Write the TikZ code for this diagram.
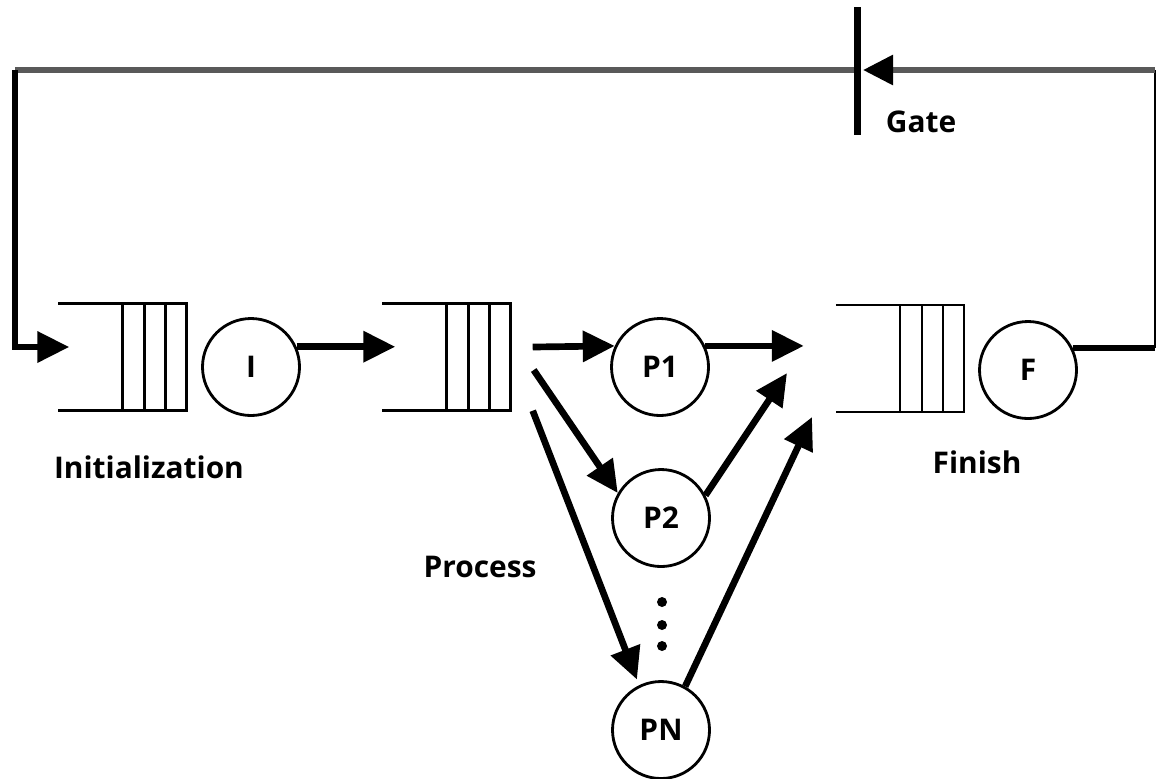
\documentclass[tikz,border=0pt]{standalone}
\usepackage{fontspec}
\setmainfont{Open Sans}
\usepackage{tikz}
\usetikzlibrary{arrows.meta, calc, positioning}

\begin{document}
\begin{tikzpicture}[>={Triangle[length=3.2mm,width=3mm]},
    flow/.style={->, line width=1.9pt},
    back/.style={line width=1.7pt, black!65},
    qline/.style={line width=0.7pt},
    queue/.style={minimum width=12.7mm, minimum height=10.6mm, inner sep=0pt},
    proc/.style={circle, draw, line width=0.8pt, minimum size=9.7mm, inner sep=0pt, font=\bfseries\fontsize{8.5}{10}\selectfont},
    lbl/.style={font=\bfseries\fontsize{8.5}{10}\selectfont}]
    \useasboundingbox (0,0) rectangle (11.56,7.78);

    % صف‌ها
    \node[queue] (Q1) at (1.225,4.21) {};
    \node[queue] (Q2) at (4.465,4.21) {};
    \node[queue] (Q3) at (9.00,4.195) {};
    \foreach \q in {Q1,Q2,Q3} {
        \draw[qline] (\q.north west) -- (\q.north east) -- (\q.south east) -- (\q.south west);
        \foreach \d in {0.21,0.42,0.64}
            \draw[qline] ([xshift=-\d cm]\q.north east) -- ([xshift=-\d cm]\q.south east);
    }

    % پردازنده‌ها
    \node[proc] (I) at (2.51,4.11) {I};
    \node[proc] (P1) at (6.60,4.11) {P1};
    \node[proc] (P2) at (6.61,2.60) {P2};
    \node[proc] (PN) at (6.61,0.48) {PN};
    \node[proc] (F) at (10.28,4.08) {F};
    \foreach \y in {1.76,1.53,1.32}
        \fill (6.62,\y) circle (0.05);

    % برچسب‌ها
    \node[lbl] (init) at (1.49,3.11) {Initialization};
    \node[lbl] (procl) at (4.80,2.11) {Process};
    \node[lbl] (fin) at (9.77,3.16) {Finish};
    \node[lbl] (gatel) at (9.21,6.56) {Gate};

    % پیکان‌ها
    \coordinate (in2) at (7.87,4.05);
    \coordinate (inN) at (8.12,3.61);
    \draw[flow] (I.24) -- ([xshift=1.3mm]I.24 -| Q2.west);
    \draw[flow] ([xshift=2.2mm,yshift=1mm]Q2.east) -- (P1.155);
    \draw[flow] ([xshift=2.3mm,yshift=-1.3mm]Q2.east) -- (P2.150);
    \draw[flow, shorten >=0.6mm] ([xshift=2.2mm]Q2.south east) -- (PN.116);
    \draw[flow] (P1.25) -- ([xshift=-3.2mm]P1.25 -| Q3.west);
    \draw[flow] (P2.27) -- (in2);
    \draw[flow] (PN.61) -- (inN);

    % مسیر بازگشت و دریچه
    \coordinate (ne) at (11.55,7.08);
    \coordinate (nw) at (0.15,7.08);
    \coordinate (gate) at (8.57,7.08);
    \draw[line width=1.9pt] (F.26) -- (F.26 -| ne);
    \draw[line width=0.7pt] (F.26 -| ne) -- (ne);
    \draw[back, -{Triangle[length=3mm,width=2.9mm,black]}, shorten >=0.6mm] (ne) -- (gate);
    \draw[back] (gate) -- (nw);
    \draw[line width=2pt] ([yshift=6.3mm]gate) -- ([yshift=-6.5mm]gate);
    \draw[flow] (nw) |- ([xshift=1.1mm,yshift=1mm]Q1.west);
\end{tikzpicture}
\end{document}
